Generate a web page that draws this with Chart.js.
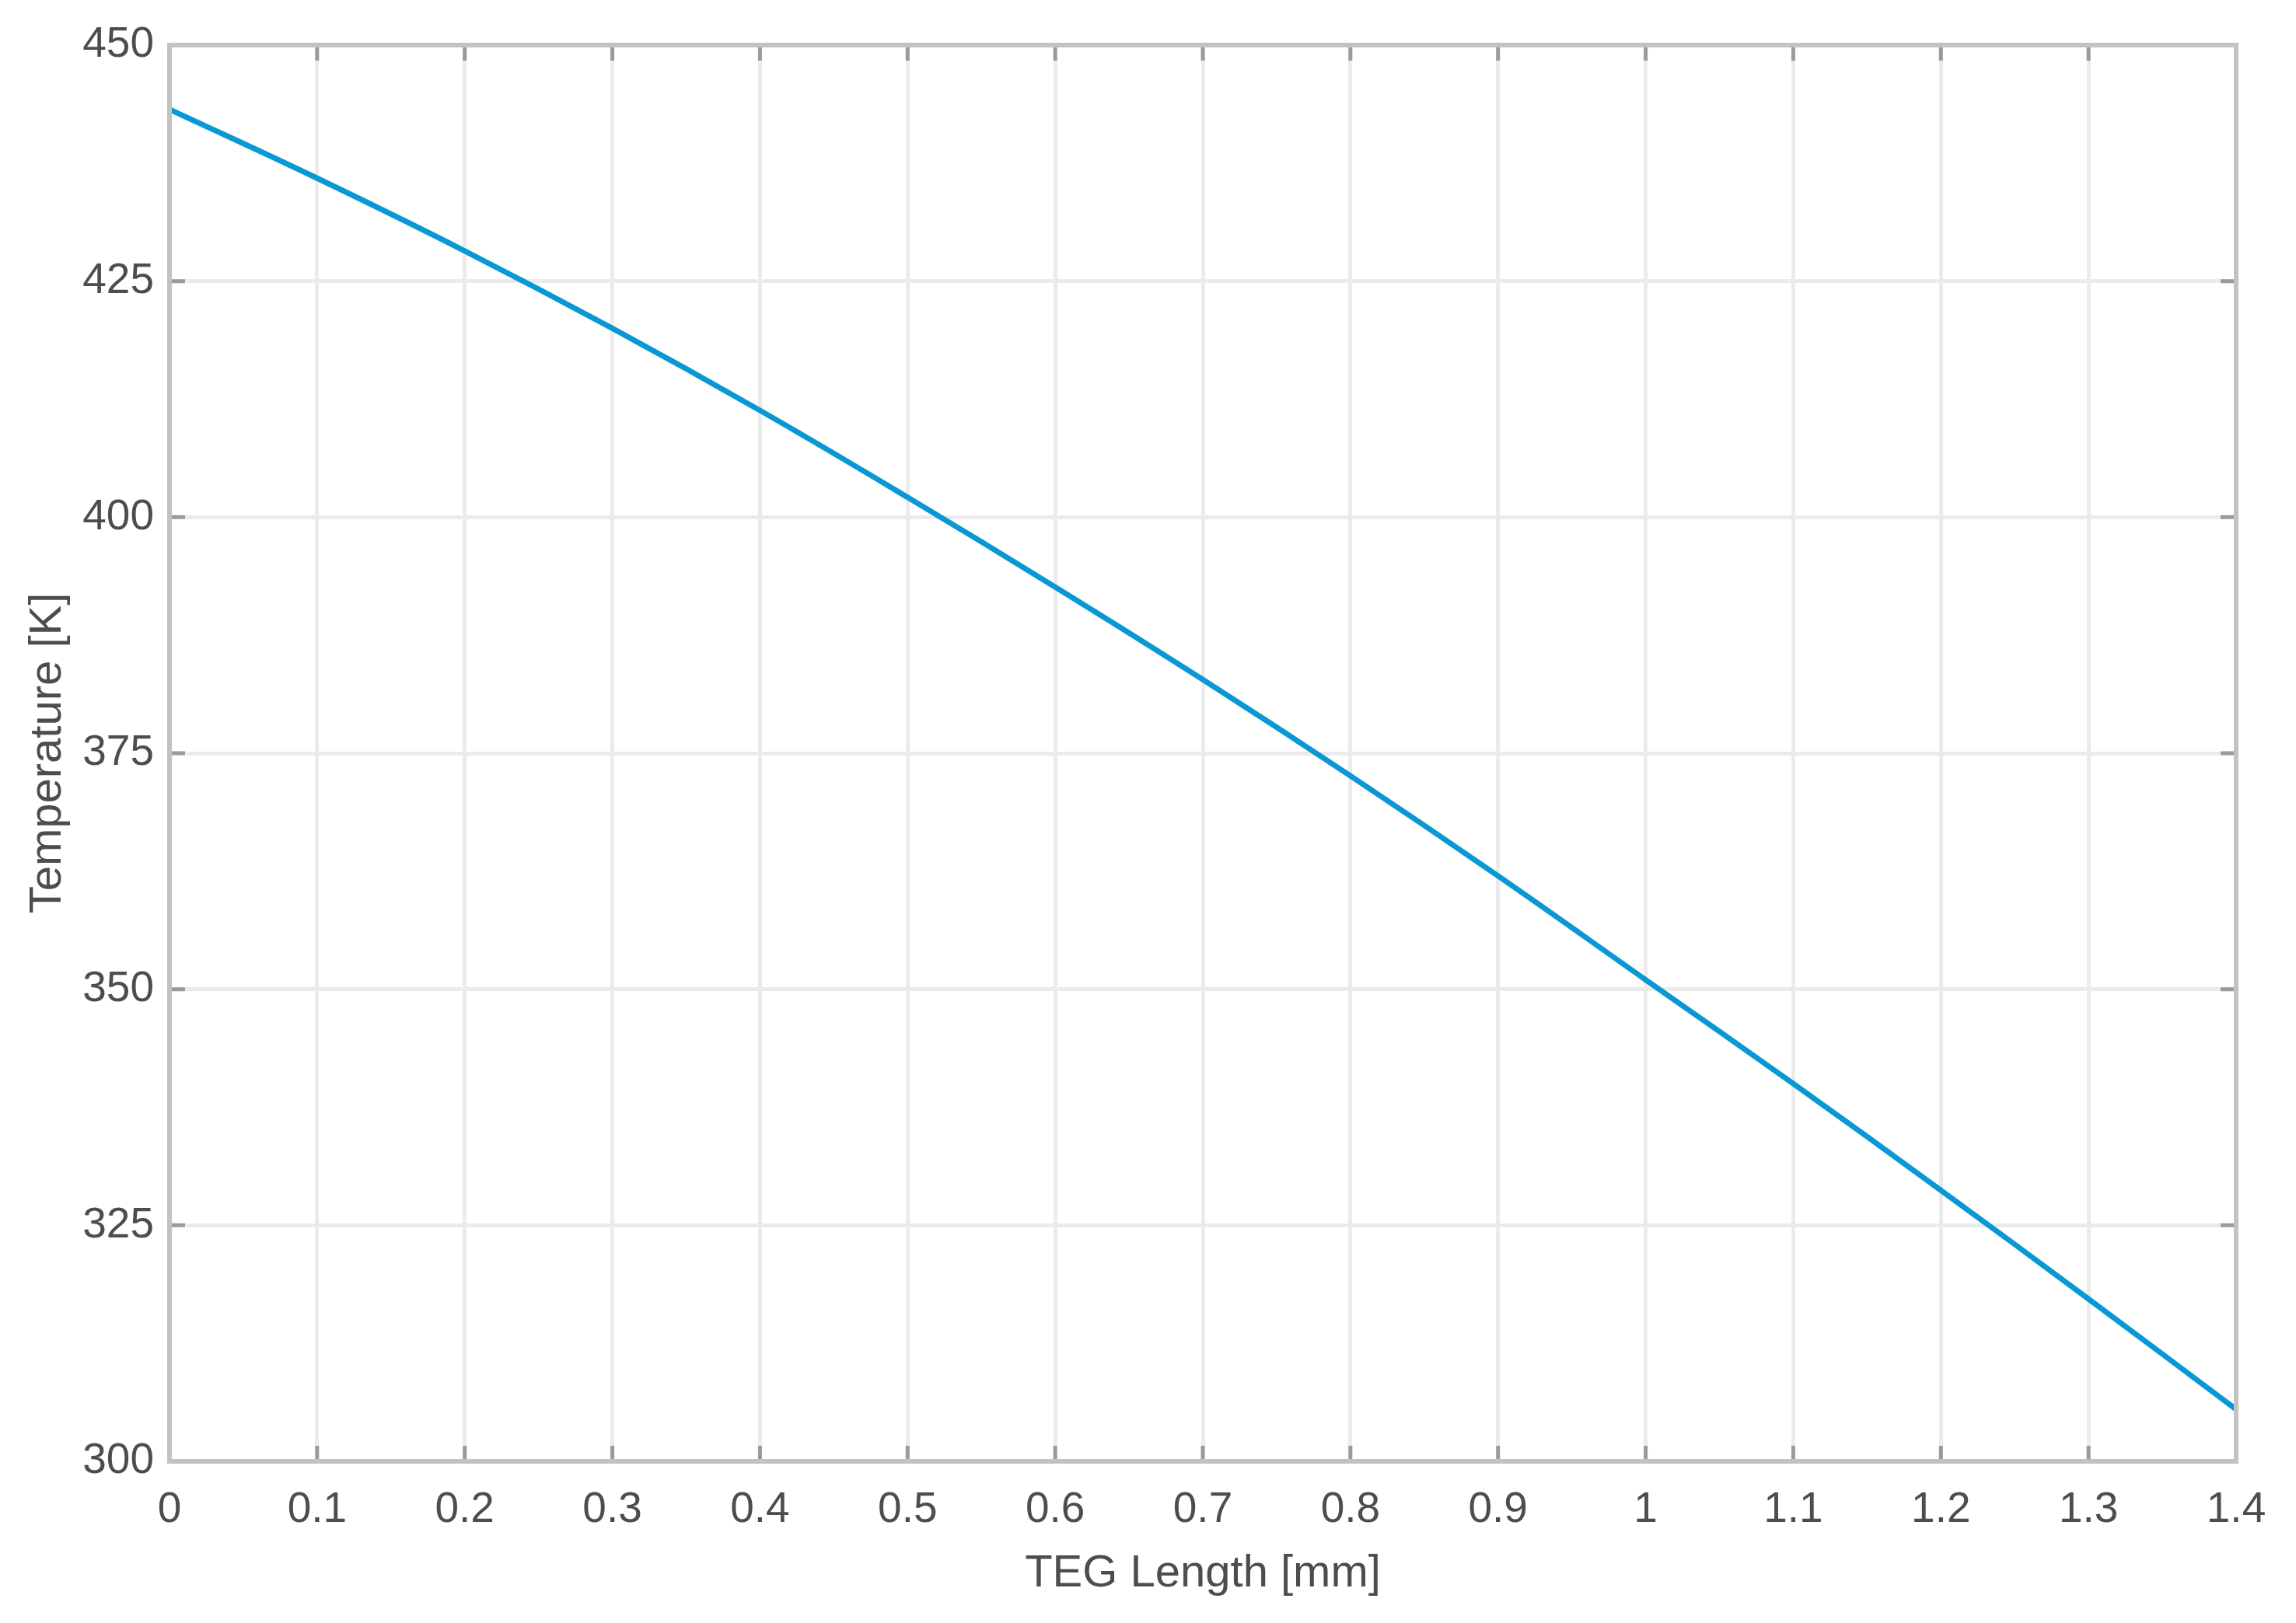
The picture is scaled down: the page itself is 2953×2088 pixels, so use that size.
<!DOCTYPE html>
<html>
<head>
<meta charset="utf-8">
<script src="https://cdn.jsdelivr.net/npm/chart.js@4/dist/chart.umd.min.js"></script>
<style>
  html, body { margin: 0; padding: 0; background: #fff; }
  #chart { display: block; }
</style>
</head>
<body>
<canvas id="chart" width="2953" height="2088"></canvas>
<script>
// TEG length [mm] and temperature [K]
const lengths = [0, 0.1, 0.2, 0.3, 0.4, 0.5, 0.6, 0.7, 0.8, 0.9, 1.0, 1.1, 1.2, 1.3, 1.4];
const temps = [443.2, 435.9, 428.2, 420, 411.3, 402.1, 392.6, 382.8, 372.6, 362, 351, 340, 328.7, 317.2, 305.5];

const xTicks = [0, 0.1, 0.2, 0.3, 0.4, 0.5, 0.6, 0.7, 0.8, 0.9, 1, 1.1, 1.2, 1.3, 1.4];
const yTicks = [300, 325, 350, 375, 400, 425, 450];

const xTitle = "TEG Length [mm]";
const yTitle = "Temperature [K]";

const tickColor = "#4d4d4d";
const gridColor = "#ebebeb";
const frameColor = "#c2c2c2";
const fontFamily = "'Liberation Sans', Arial, sans-serif";

// box round the plot plus the little inner tick marks, matlab style
const framePlugin = {
    id: "frame",
    afterDraw(chart) {
        const { ctx, chartArea: a, scales } = chart;
        ctx.save();
        ctx.strokeStyle = "#9a9a9a";
        ctx.lineWidth = 5;
        const len = 20;
        xTicks.forEach((v) => {
            const px = scales.x.getPixelForValue(v);
            ctx.beginPath();
            ctx.moveTo(px, a.bottom); ctx.lineTo(px, a.bottom - len);
            ctx.moveTo(px, a.top); ctx.lineTo(px, a.top + len);
            ctx.stroke();
        });
        yTicks.forEach((v) => {
            const py = scales.y.getPixelForValue(v);
            ctx.beginPath();
            ctx.moveTo(a.left, py); ctx.lineTo(a.left + len, py);
            ctx.moveTo(a.right, py); ctx.lineTo(a.right - len, py);
            ctx.stroke();
        });
        ctx.strokeStyle = frameColor;
        ctx.lineWidth = 6;
        ctx.strokeRect(a.left, a.top, a.right - a.left, a.bottom - a.top);
        ctx.restore();
    }
};

const ctx = document.getElementById("chart");
new Chart(ctx, {
    type: "line",
    data: {
        datasets: [
            {
                data: lengths.map((x, i) => ({ x: x, y: temps[i] })),
                borderColor: "#0a98d4",
                borderWidth: 7,
                pointRadius: 0,
                fill: false,
                tension: 0.4,
            }
        ]
    },
    options: {
        responsive: false,
        animation: false,
        layout: { padding: { left: 0, top: 58, right: 77, bottom: 0 } },
        plugins: {
            legend: { display: false },
            tooltip: { enabled: false },
        },
        scales: {
            x: {
                type: "linear",
                min: 0,
                max: 1.4,
                afterBuildTicks: (s) => { s.ticks = xTicks.map((v) => ({ value: v })); },
                afterFit: (s) => { s.height = 208; },
                ticks: {
                    color: tickColor,
                    font: { family: fontFamily, size: 55 },
                    padding: 30,
                    maxRotation: 0,
                    autoSkip: false,
                    callback: (v) => String(Number(v.toFixed(1))),
                },
                grid: { color: gridColor, lineWidth: 5, drawTicks: false },
                border: { display: false },
                title: {
                    display: true,
                    text: xTitle,
                    color: tickColor,
                    font: { family: fontFamily, size: 58 },
                    padding: { top: 0, bottom: 28 },
                },
            },
            y: {
                type: "linear",
                min: 300,
                max: 450,
                afterBuildTicks: (s) => { s.ticks = yTicks.map((v) => ({ value: v })); },
                afterFit: (s) => { s.width = 218; },
                ticks: {
                    color: tickColor,
                    font: { family: fontFamily, size: 55 },
                    padding: 20,
                },
                grid: { color: gridColor, lineWidth: 5, drawTicks: false },
                border: { display: false },
                title: {
                    display: true,
                    text: yTitle,
                    color: tickColor,
                    font: { family: fontFamily, size: 58 },
                    padding: { top: 27, bottom: 0 },
                },
            }
        }
    },
    plugins: [framePlugin]
});
</script>
</body>
</html>
